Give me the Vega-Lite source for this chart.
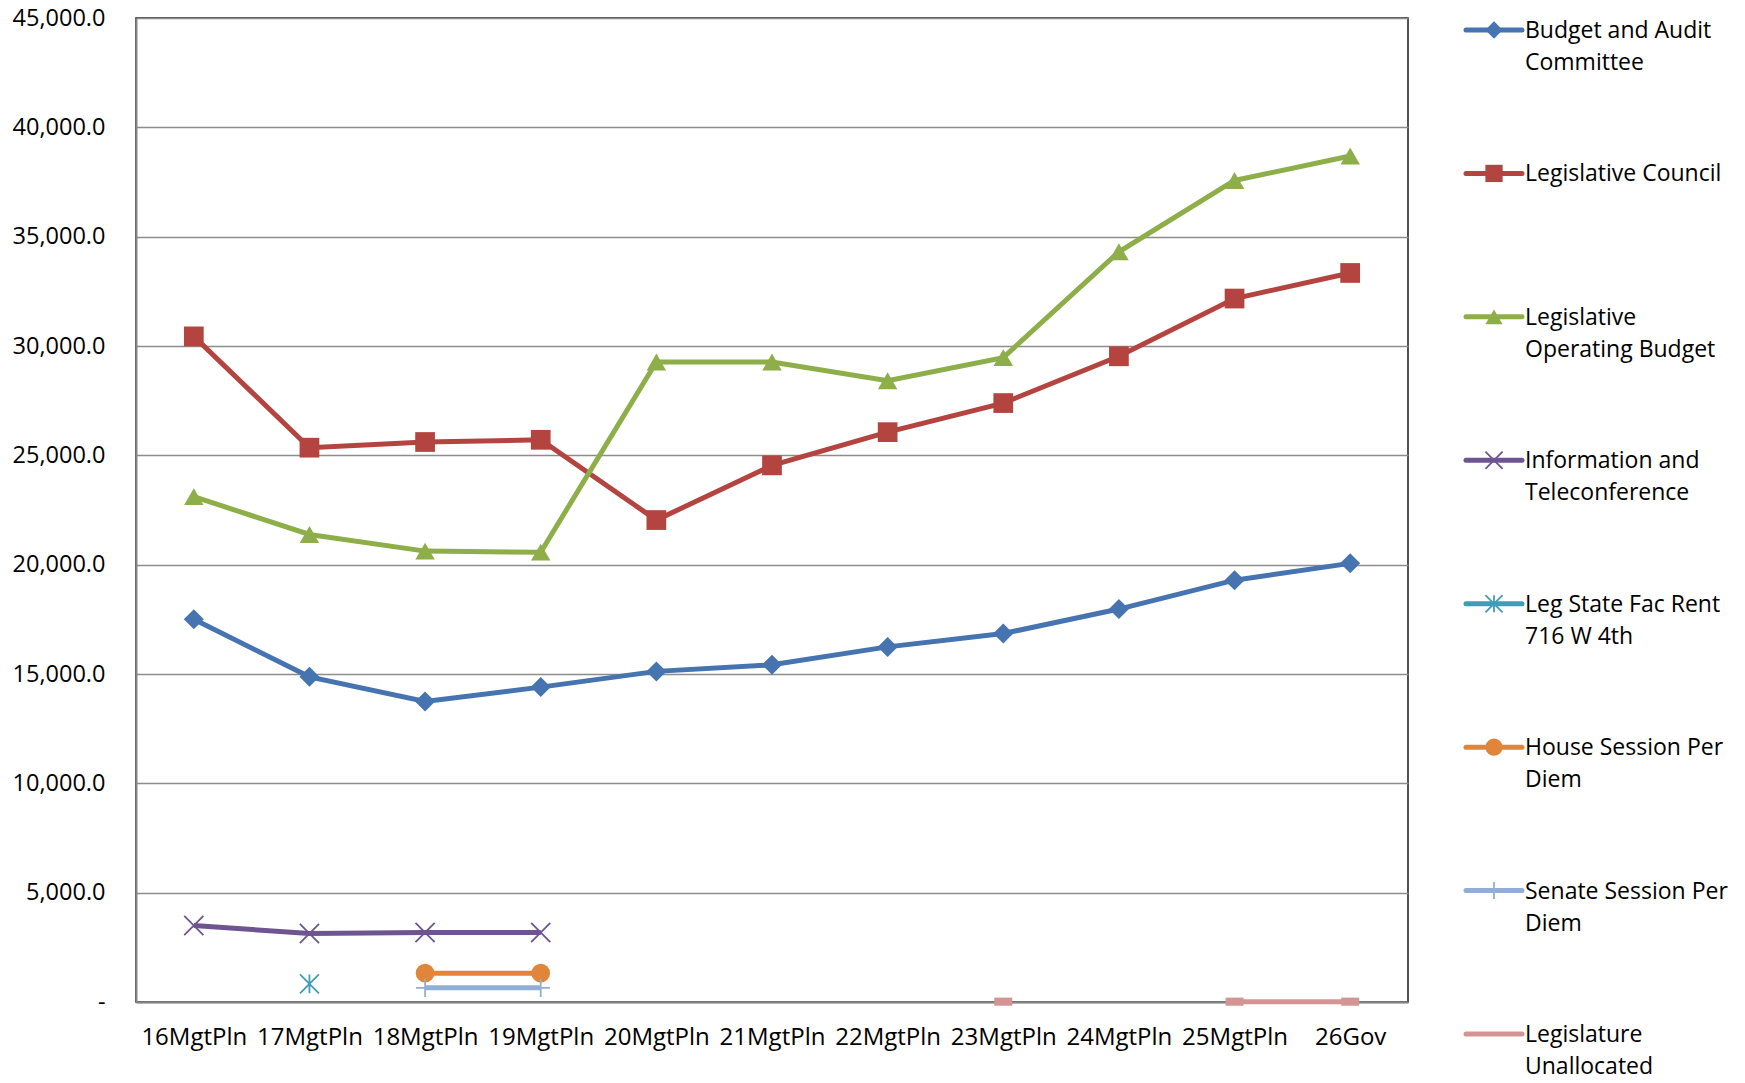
{
  "$schema": "https://vega.github.io/schema/vega-lite/v6.json",
  "background": "white",
  "padding": {"left": 11, "top": 5, "right": 0, "bottom": 0},
  "config": {
    "font": "Open Sans",
    "view": {"stroke": null},
    "axis": {"labelFont": "Open Sans", "labelColor": "#000000", "labelFontSize": 22, "title": null}
  },
  "datasets": {
    "main": [
      {"cat": "16MgtPln", "series": "Budget and Audit Committee", "value": 17500},
      {"cat": "17MgtPln", "series": "Budget and Audit Committee", "value": 14870},
      {"cat": "18MgtPln", "series": "Budget and Audit Committee", "value": 13740},
      {"cat": "19MgtPln", "series": "Budget and Audit Committee", "value": 14400},
      {"cat": "20MgtPln", "series": "Budget and Audit Committee", "value": 15120},
      {"cat": "21MgtPln", "series": "Budget and Audit Committee", "value": 15420},
      {"cat": "22MgtPln", "series": "Budget and Audit Committee", "value": 16240},
      {"cat": "23MgtPln", "series": "Budget and Audit Committee", "value": 16850},
      {"cat": "24MgtPln", "series": "Budget and Audit Committee", "value": 17970},
      {"cat": "25MgtPln", "series": "Budget and Audit Committee", "value": 19290},
      {"cat": "26Gov", "series": "Budget and Audit Committee", "value": 20060},
      {"cat": "16MgtPln", "series": "Legislative Council", "value": 30440},
      {"cat": "17MgtPln", "series": "Legislative Council", "value": 25350},
      {"cat": "18MgtPln", "series": "Legislative Council", "value": 25610},
      {"cat": "19MgtPln", "series": "Legislative Council", "value": 25710},
      {"cat": "20MgtPln", "series": "Legislative Council", "value": 22040},
      {"cat": "21MgtPln", "series": "Legislative Council", "value": 24540},
      {"cat": "22MgtPln", "series": "Legislative Council", "value": 26060},
      {"cat": "23MgtPln", "series": "Legislative Council", "value": 27390},
      {"cat": "24MgtPln", "series": "Legislative Council", "value": 29530},
      {"cat": "25MgtPln", "series": "Legislative Council", "value": 32170},
      {"cat": "26Gov", "series": "Legislative Council", "value": 33340},
      {"cat": "16MgtPln", "series": "Legislative Operating Budget", "value": 23110},
      {"cat": "17MgtPln", "series": "Legislative Operating Budget", "value": 21380},
      {"cat": "18MgtPln", "series": "Legislative Operating Budget", "value": 20620},
      {"cat": "19MgtPln", "series": "Legislative Operating Budget", "value": 20570},
      {"cat": "20MgtPln", "series": "Legislative Operating Budget", "value": 29270},
      {"cat": "21MgtPln", "series": "Legislative Operating Budget", "value": 29270},
      {"cat": "22MgtPln", "series": "Legislative Operating Budget", "value": 28410},
      {"cat": "23MgtPln", "series": "Legislative Operating Budget", "value": 29470},
      {"cat": "24MgtPln", "series": "Legislative Operating Budget", "value": 34310},
      {"cat": "25MgtPln", "series": "Legislative Operating Budget", "value": 37570},
      {"cat": "26Gov", "series": "Legislative Operating Budget", "value": 38690},
      {"cat": "16MgtPln", "series": "Information and Teleconference", "value": 3500},
      {"cat": "17MgtPln", "series": "Information and Teleconference", "value": 3130},
      {"cat": "18MgtPln", "series": "Information and Teleconference", "value": 3180},
      {"cat": "19MgtPln", "series": "Information and Teleconference", "value": 3180},
      {"cat": "17MgtPln", "series": "Leg State Fac Rent 716 W 4th", "value": 830},
      {"cat": "18MgtPln", "series": "House Session Per Diem", "value": 1320},
      {"cat": "19MgtPln", "series": "House Session Per Diem", "value": 1320},
      {"cat": "18MgtPln", "series": "Senate Session Per Diem", "value": 650},
      {"cat": "19MgtPln", "series": "Senate Session Per Diem", "value": 650},
      {"cat": "23MgtPln", "series": "Legislature Unallocated", "value": 15},
      {"cat": "24MgtPln", "series": "Legislature Unallocated", "value": null},
      {"cat": "25MgtPln", "series": "Legislature Unallocated", "value": 15},
      {"cat": "26Gov", "series": "Legislature Unallocated", "value": 15}
    ],
    "legend": [
      {"series": "Budget and Audit Committee", "order": 0, "label": "Budget and Audit|Committee"},
      {"series": "Legislative Council", "order": 1, "label": "Legislative Council"},
      {"series": "Legislative Operating Budget", "order": 2, "label": "Legislative|Operating Budget"},
      {"series": "Information and Teleconference", "order": 3, "label": "Information and|Teleconference"},
      {"series": "Leg State Fac Rent 716 W 4th", "order": 4, "label": "Leg State Fac Rent|716 W 4th"},
      {"series": "House Session Per Diem", "order": 5, "label": "House Session Per|Diem"},
      {"series": "Senate Session Per Diem", "order": 6, "label": "Senate Session Per|Diem"},
      {"series": "Legislature Unallocated", "order": 7, "label": "Legislature|Unallocated"}
    ]
  },
  "spacing": 54,
  "resolve": {"scale": {"size": "independent"}},
  "hconcat": [
    {
      "width": 1272,
      "height": 984,
      "view": {"stroke": "#1a1a1a", "strokeWidth": 1.5},
      "data": {"name": "main"},
      "encoding": {
        "x": {
          "field": "cat", "type": "ordinal",
          "scale": {"type": "point", "padding": 0.5, "domain": ["16MgtPln", "17MgtPln", "18MgtPln", "19MgtPln", "20MgtPln", "21MgtPln", "22MgtPln", "23MgtPln", "24MgtPln", "25MgtPln", "26Gov"]},
          "axis": {"ticks": false, "labelPadding": 23, "labelAngle": 0, "grid": false, "domainColor": "#868686", "domainWidth": 2, "labelFontSize": 24}
        },
        "y": {
          "field": "value", "type": "quantitative",
          "scale": {"domain": [0, 45000], "nice": false, "zero": true},
          "axis": {
            "values": [0, 5000, 10000, 15000, 20000, 25000, 30000, 35000, 40000, 45000],
            "labelExpr": "datum.value == 0 ? '-\u00a0\u00a0' : format(datum.value, ',.1f')",
            "ticks": false, "labelPadding": 31, "domainColor": "#868686", "domainWidth": 2,
            "gridColor": "#8c8c8c", "gridWidth": 1.4, "gridOpacity": 1, "labelFontSize": 23.5
          }
        },
        "color": {
          "field": "series", "type": "nominal", "legend": null,
          "scale": {
            "domain": ["Budget and Audit Committee", "Legislative Council", "Legislative Operating Budget", "Information and Teleconference", "Leg State Fac Rent 716 W 4th", "House Session Per Diem", "Senate Session Per Diem", "Legislature Unallocated"],
            "range": ["#4574B0", "#B4443F", "#8DAE48", "#6E5490", "#3F9DB5", "#E0853A", "#93AED4", "#D49494"]
          }
        }
      },
      "layer": [
        {
          "mark": {"type": "line", "strokeWidth": 5, "invalid": "break-paths-filter-domains", "strokeCap": "butt"}
        },
        {
          "transform": [{"filter": {"field": "series", "oneOf": ["Budget and Audit Committee", "Legislative Council", "Legislative Operating Budget", "House Session Per Diem", "Legislature Unallocated"]}}],
          "mark": {"type": "point", "filled": true, "opacity": 1},
          "encoding": {
            "shape": {
              "field": "series", "type": "nominal", "legend": null,
              "scale": {
                "domain": ["Budget and Audit Committee", "Legislative Council", "Legislative Operating Budget", "Information and Teleconference", "Leg State Fac Rent 716 W 4th", "House Session Per Diem", "Senate Session Per Diem", "Legislature Unallocated"],
                "range": ["diamond", "square", "triangle-up", "M-1,-1L1,1M-1,1L1,-1", "M-1,-1L1,1M-1,1L1,-1M0,-1L0,1", "circle", "M-1,0L1,0M0,-1L0,1", "M-1,-0.45L1,-0.45L1,0.45L-1,0.45Z"]
              }
            },
            "size": {
              "field": "series", "type": "ordinal", "legend": null,
              "scale": {
                "domain": ["Budget and Audit Committee", "Legislative Council", "Legislative Operating Budget", "Information and Teleconference", "Leg State Fac Rent 716 W 4th", "House Session Per Diem", "Senate Session Per Diem", "Legislature Unallocated"],
                "range": [400, 324, 441, 324, 361, 400, 361, 121]
              }
            }
          }
        },
        {
          "transform": [{"filter": {"field": "series", "oneOf": ["Information and Teleconference", "Leg State Fac Rent 716 W 4th", "Senate Session Per Diem"]}}],
          "mark": {"type": "point", "filled": false, "opacity": 1, "strokeWidth": 1.8},
          "encoding": {
            "shape": {"field": "series", "type": "nominal", "legend": null},
            "size": {"field": "series", "type": "ordinal", "legend": null}
          }
        }
      ]
    },
    {
      "width": 56,
      "height": 984,
      "view": {"stroke": null},
      "data": {"name": "legend"},
      "encoding": {
        "y": {"field": "order", "type": "quantitative", "scale": {"domain": [0, 7], "range": [12, 1016], "zero": false, "nice": false}, "axis": null},
        "color": {"field": "series", "type": "nominal", "legend": null}
      },
      "layer": [
        {
          "mark": {"type": "rule", "strokeWidth": 5, "strokeCap": "round"},
          "encoding": {
            "x": {"datum": 0, "type": "quantitative", "scale": {"domain": [0, 1], "range": [0, 56]}, "axis": null},
            "x2": {"datum": 1}
          }
        },
        {
          "transform": [{"filter": {"field": "series", "oneOf": ["Budget and Audit Committee", "Legislative Council", "Legislative Operating Budget", "House Session Per Diem"]}}],
          "mark": {"type": "point", "filled": true, "opacity": 1},
          "encoding": {
            "x": {"datum": 0.5, "type": "quantitative"},
            "shape": {"field": "series", "type": "nominal", "legend": null},
            "size": {
              "field": "series", "type": "ordinal", "legend": null,
              "scale": {
                "domain": ["Budget and Audit Committee", "Legislative Council", "Legislative Operating Budget", "Information and Teleconference", "Leg State Fac Rent 716 W 4th", "House Session Per Diem", "Senate Session Per Diem", "Legislature Unallocated"],
                "range": [300, 289, 330, 289, 300, 300, 324, 100]
              }
            }
          }
        },
        {
          "transform": [{"filter": {"field": "series", "oneOf": ["Information and Teleconference", "Leg State Fac Rent 716 W 4th", "Senate Session Per Diem"]}}],
          "mark": {"type": "point", "filled": false, "opacity": 1, "strokeWidth": 1.8},
          "encoding": {
            "x": {"datum": 0.5, "type": "quantitative"},
            "shape": {"field": "series", "type": "nominal", "legend": null},
            "size": {"field": "series", "type": "ordinal", "legend": null}
          }
        },
        {
          "mark": {"type": "text", "align": "left", "baseline": "alphabetic", "dx": 3, "dy": 8, "lineBreak": "|", "lineHeight": 32, "fontSize": 23, "font": "Open Sans", "color": "#000000"},
          "encoding": {
            "x": {"datum": 1, "type": "quantitative"},
            "text": {"field": "label", "type": "nominal"},
            "color": {"value": "#000000"}
          }
        }
      ]
    }
  ]
}
